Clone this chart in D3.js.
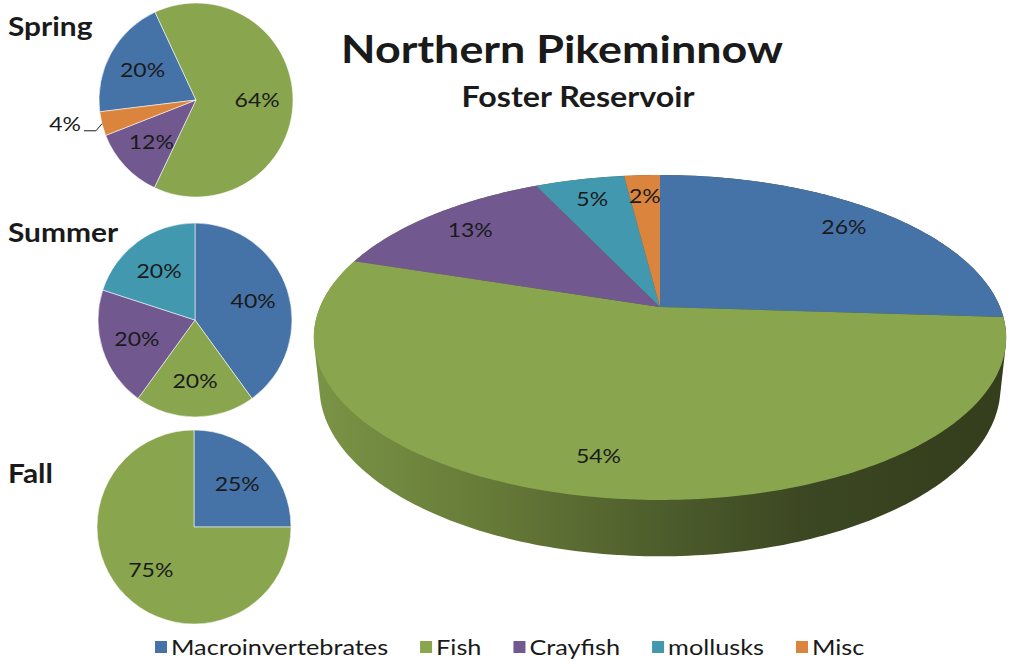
<!DOCTYPE html>
<html>
<head>
<meta charset="utf-8">
<script src="https://cdn.jsdelivr.net/npm/d3@7"></script>
<style>
  body { margin: 0; background: #fff; }
  text { font-family: Lato, "Noto Sans", sans-serif; fill: #1a1a1a; }
</style>
</head>
<body>
<svg width="1011" height="661"></svg>
<script>
// diet categories and colours (Excel 2007 palette)
var categories = ["Macroinvertebrates", "Fish", "Crayfish", "mollusks", "Misc"];
var colors = ["#4572A7", "#89A54E", "#71588F", "#4198AF", "#DB843D"];

// percent of diet by season
var seasons = ["Spring", "Summer", "Fall"];
var springValues = [20, 64, 12, 0, 4];
var summerValues = [40, 20, 20, 20, 0];
var fallValues = [25, 75, 0, 0, 0];
var totalValues = [26, 54, 13, 5, 2];
var seasonValues = [springValues, summerValues, fallValues];
var seasonRotation = [-97, 0, 0]; // angle of first slice, degrees

var svg = d3.select("svg");
var stretch = 1.15; // text in the picture is drawn a bit wide

function addText(g, x, y, str, size, weight, anchor) {
  return g.append("text")
    .attr("transform", "translate(" + x + "," + y + ") scale(" + stretch + ",1)")
    .attr("text-anchor", anchor || "middle")
    .style("font-size", size + "px")
    .style("font-weight", weight || "normal")
    .text(str);
}

function pct(v) { return v + "%"; }

// titles
addText(svg, 562, 63, "Northern Pikeminnow", 39, "bold");
addText(svg, 578, 107, "Foster Reservoir", 28, "bold");

// small season pies
var smallCenters = [[196, 100], [195, 320], [194, 527]];
var smallR = 97;
var seasonLabelY = [36, 242, 483];

seasons.forEach(function (name, si) {
  var rot = seasonRotation[si] * Math.PI / 180;
  var pie = d3.pie().sort(null)
    .startAngle(rot).endAngle(rot + 2 * Math.PI);
  var arcs = pie(seasonValues[si]).map(function (a, i) { a.index = i; return a; })
    .filter(function (a) { return a.value > 0; });
  var arc = d3.arc().innerRadius(0).outerRadius(smallR);
  var labelArc = d3.arc().innerRadius(smallR * 0.63).outerRadius(smallR * 0.63);

  var g = svg.append("g")
    .attr("transform", "translate(" + smallCenters[si][0] + "," + smallCenters[si][1] + ")");

  g.selectAll("path.slice")
    .data(arcs)
    .enter()
    .append("path")
    .attr("class", "slice")
    .attr("d", arc)
    .attr("fill", function (d) { return colors[d.index]; })
    .attr("stroke", "#fff")
    .attr("stroke-opacity", 0.55)
    .attr("stroke-width", 1);

  arcs.forEach(function (d) {
    var mid = (d.startAngle + d.endAngle) / 2;
    if (d.value >= 6) {
      var c = labelArc.centroid(d);
      addText(g, c[0], c[1] + 7, pct(d.value), 20);
    } else {
      // small slice: label outside with a leader line
      var p0 = [smallR * Math.sin(mid), -smallR * Math.cos(mid)];
      var p1 = [p0[0] - 6, p0[1] + 7];
      var p2 = [p1[0] - 12, p1[1]];
      g.append("path")
        .attr("d", d3.line()([p0, p1, p2]))
        .attr("fill", "none")
        .attr("stroke", "#1a1a1a")
        .attr("stroke-width", 1);
      addText(g, p2[0] - 3, p2[1], pct(d.value), 20, "normal", "end");
    }
  });

  addText(svg, 8, seasonLabelY[si], name, 26, "bold", "start");
});

// big perspective pie
var bigCx = 660, bigCy = 307, halfWidth = 340;
var kc = 0.1877, sinA = 0.461, depth = 0.165;
var alpha = Math.asin(sinA), cosA = Math.cos(alpha);
var k = kc / cosA, dist = 1 / k, focal = halfWidth / k;

function proj(theta, rho, z) {
  var X = rho * Math.sin(theta), Y = rho * Math.cos(theta);
  var yc = Y * sinA + z * cosA;
  var zc = dist + Y * cosA - z * sinA;
  return [bigCx + focal * X / zc, bigCy - focal * yc / zc];
}

var defs = svg.append("defs");
var grad = defs.append("linearGradient")
  .attr("id", "sideGrad")
  .attr("gradientUnits", "userSpaceOnUse")
  .attr("x1", 314).attr("x2", 1006).attr("y1", 0).attr("y2", 0);
[[0, "#7a9446"], [0.25, "#677b38"], [0.5, "#4d5d2c"], [0.72, "#3b4622"], [1, "#343d1c"]]
  .forEach(function (s) {
    grad.append("stop").attr("offset", s[0]).attr("stop-color", s[1]);
  });

var ring = d3.range(0, 361).map(function (i) { return i * Math.PI / 180; });
var hullPts = ring.map(function (t) { return proj(t, 1, 0); })
  .concat(ring.map(function (t) { return proj(t, 1, -depth); }));
var hull = d3.polygonHull(hullPts);
svg.append("path")
  .attr("d", "M" + hull.join("L") + "Z")
  .attr("fill", "url(#sideGrad)");

var bigArcs = d3.pie().sort(null)(totalValues);
var line = d3.line();
var bigG = svg.append("g");
bigG.selectAll("path")
  .data(bigArcs)
  .enter()
  .append("path")
  .attr("d", function (d) {
    var n = Math.max(2, Math.ceil((d.endAngle - d.startAngle) * 60));
    var pts = [proj(0, 0, 0)];
    for (var i = 0; i <= n; i++) {
      pts.push(proj(d.startAngle + (d.endAngle - d.startAngle) * i / n, 1, 0));
    }
    return line(pts) + "Z";
  })
  .attr("fill", function (d, i) { return colors[i]; });

bigArcs.forEach(function (d) {
  var p = proj((d.startAngle + d.endAngle) / 2, 0.82, 0);
  addText(svg, p[0], p[1] + 7, pct(d.value), 20);
});

// legend
var legend = svg.append("g");
var lx = 155, ly = 655, gap = 32;
categories.forEach(function (name, i) {
  legend.append("rect")
    .attr("x", lx).attr("y", ly - 14)
    .attr("width", 12).attr("height", 12)
    .attr("fill", colors[i]);
  var t = addText(legend, lx + 16, ly, name, 22, "normal", "start");
  lx += 16 + t.node().getComputedTextLength() * stretch + gap;
});
</script>
</body>
</html>
